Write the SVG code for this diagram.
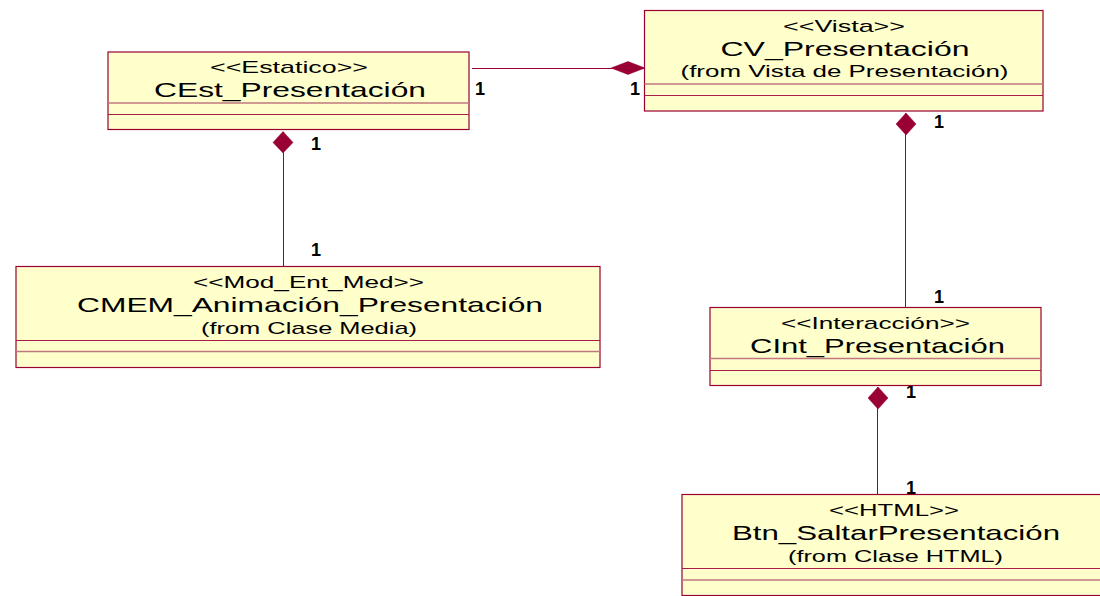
<svg xmlns="http://www.w3.org/2000/svg" width="1100" height="596" viewBox="0 0 1100 596">
<style>
.box{fill:#ffffcc;stroke:#990033;stroke-width:1.2}
.sep{stroke:#a81c48;stroke-width:1;fill:none}
.sep2{stroke:#c07880;stroke-width:1.4;fill:none}
.con{stroke:#990033;stroke-width:1;fill:none}
.dia{fill:#990033;stroke:#990033;stroke-width:.5}
text{font-family:"Liberation Sans",Arial,sans-serif;fill:#000;text-anchor:middle}
.st{font-size:17px}
.nm{font-size:21px}
.fr{font-size:17px}
.mu{font-size:18px;font-weight:bold}
</style>
<rect width="1100" height="596" fill="#fff"/>
<g id="connectors">
<path class="con" d="M472 68.500H645"/>
<path class="dia" d="M611 68L628 61.500L645 68L628 74.500Z"/>
<path class="con" d="M283.500 132V266"/>
<path class="dia" d="M283 131.500L293 142.500L283 153L273 142.500Z"/>
<path class="con" d="M905.500 113V307"/>
<path class="dia" d="M906 113L916 124L906 135L896 124Z"/>
<path class="con" d="M877.500 387V494"/>
<path class="dia" d="M878 387L888 398L878 409L868 398Z"/>
<text class="mu" x="480" y="95">1</text>
<text class="mu" x="635" y="95">1</text>
<text class="mu" x="316" y="150">1</text>
<text class="mu" x="316" y="256">1</text>
<text class="mu" x="939" y="128">1</text>
<text class="mu" x="939" y="303">1</text>
<text class="mu" x="911" y="398">1</text>
<text class="mu" x="911" y="494">1</text>
</g>
<g id="CEst_Presentacion">
<rect class="box" x="108" y="52" width="361" height="77.500"/>
<path class="sep2" d="M108 103H469"/><path class="sep" d="M108 114.500H469"/>
<text class="st" x="289" y="73" textLength="158" lengthAdjust="spacingAndGlyphs">&lt;&lt;Estatico&gt;&gt;</text>
<text class="nm" x="290" y="97" textLength="272" lengthAdjust="spacingAndGlyphs">CEst_Presentación</text>
</g>
<g id="CV_Presentacion">
<rect class="box" x="644.500" y="10.500" width="398.500" height="100.500"/>
<path class="sep2" d="M644.500 84H1043"/><path class="sep" d="M644.500 95.500H1043"/>
<text class="st" x="844" y="32" textLength="122" lengthAdjust="spacingAndGlyphs">&lt;&lt;Vista&gt;&gt;</text>
<text class="nm" x="845" y="56" textLength="249" lengthAdjust="spacingAndGlyphs">CV_Presentación</text>
<text class="fr" x="844.500" y="77" textLength="328" lengthAdjust="spacingAndGlyphs">(from Vista de Presentación)</text>
</g>
<g id="CMEM_Animacion_Presentacion">
<rect class="box" x="16" y="266.500" width="584" height="101"/>
<path class="sep" d="M16 340.500H600"/><path class="sep2" d="M16 351.500H600"/>
<text class="st" x="308.500" y="288" textLength="231" lengthAdjust="spacingAndGlyphs">&lt;&lt;Mod_Ent_Med&gt;&gt;</text>
<text class="nm" x="310" y="312" textLength="466" lengthAdjust="spacingAndGlyphs">CMEM_Animación_Presentación</text>
<text class="fr" x="309" y="334" textLength="216" lengthAdjust="spacingAndGlyphs">(from Clase Media)</text>
</g>
<g id="CInt_Presentacion">
<rect class="box" x="710" y="307.500" width="331" height="78"/>
<path class="sep2" d="M710 358.500H1041"/><path class="sep" d="M710 370.500H1041"/>
<text class="st" x="875.500" y="329" textLength="189" lengthAdjust="spacingAndGlyphs">&lt;&lt;Interacción&gt;&gt;</text>
<text class="nm" x="877.500" y="353" textLength="255" lengthAdjust="spacingAndGlyphs">CInt_Presentación</text>
</g>
<g id="Btn_SaltarPresentacion">
<rect class="box" x="682" y="494.500" width="420" height="101"/>
<path class="sep" d="M682 568.500H1102"/><path class="sep2" d="M682 580H1102"/>
<text class="st" x="894" y="516" textLength="130" lengthAdjust="spacingAndGlyphs">&lt;&lt;HTML&gt;&gt;</text>
<text class="nm" x="896" y="540" textLength="328" lengthAdjust="spacingAndGlyphs">Btn_SaltarPresentación</text>
<text class="fr" x="895.500" y="562" textLength="215" lengthAdjust="spacingAndGlyphs">(from Clase HTML)</text>
</g>
</svg>
